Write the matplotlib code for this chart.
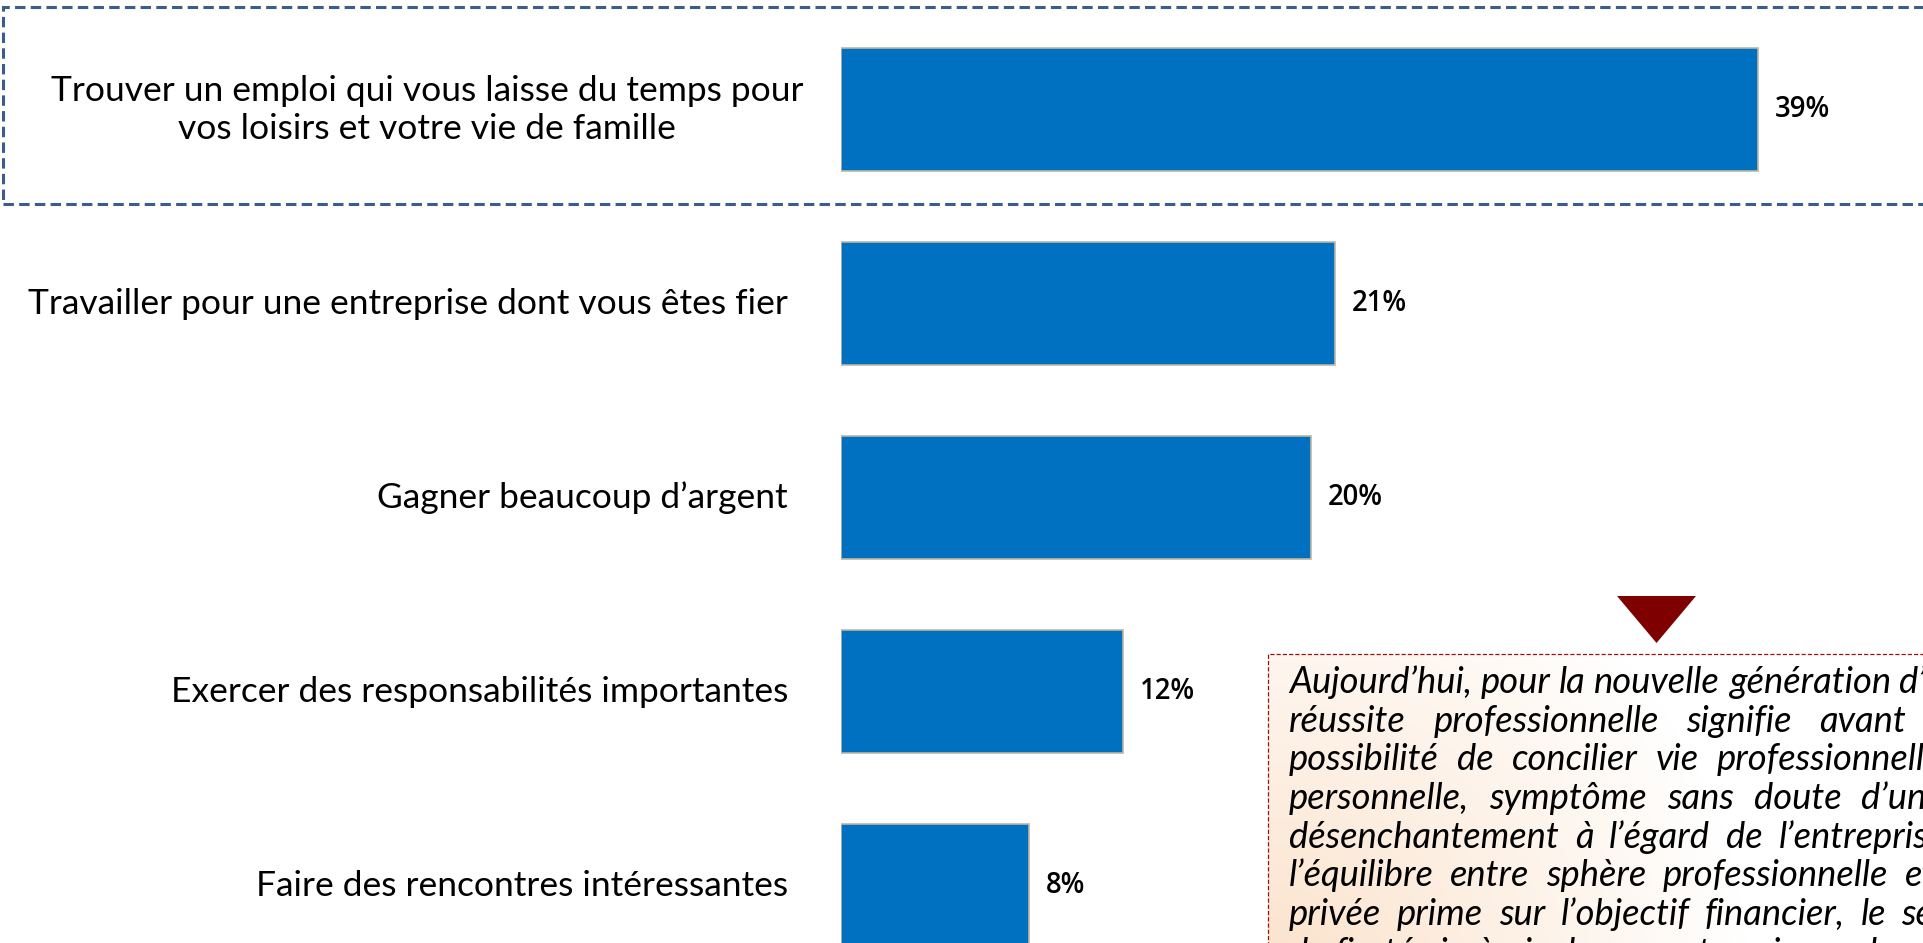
import matplotlib
matplotlib.use("Agg")
import matplotlib.pyplot as plt
import numpy as np
from matplotlib.patches import Rectangle, Polygon
from matplotlib.transforms import offset_copy
import matplotlib.font_manager as fm

plt.rcParams["lines.scale_dashes"] = False

# ---------------- data ----------------
categories = [
    "Trouver un emploi qui vous laisse du temps pour\nvos loisirs et votre vie de famille",
    "Travailler pour une entreprise dont vous êtes fier",
    "Gagner beaucoup d’argent",
    "Exercer des responsabilités importantes",
    "Faire des rencontres intéressantes",
]
values = [39, 21, 20, 12, 8]
value_labels = ["39%", "21%", "20%", "12%", "8%"]

comment_lines = [
    "Aujourd’hui, pour la nouvelle génération d’actifs, la",
    "réussite professionnelle signifie avant tout la",
    "possibilité de concilier vie professionnelle et vie",
    "personnelle, symptôme sans doute d’un certain",
    "désenchantement à l’égard de l’entreprise. Ainsi,",
    "l’équilibre entre sphère professionnelle et sphère",
    "privée prime sur l’objectif financier, le sentiment",
    "de fierté vis-à-vis de son entreprise ou la quête",
]

# ---------------- layout helpers ----------------
W, H, DPI = 1923, 943, 100
BAR_COLOR = "#0070C0"


def pick_family(cands, style="normal"):
    for c in cands:
        try:
            p = fm.findfont(fm.FontProperties(family=c, style=style),
                            fallback_to_default=False)
            if style == "italic" and "italic" not in p.lower():
                continue
            return c
        except Exception:
            continue
    return "DejaVu Sans"


LABEL_FONT = pick_family(["Lato", "Open Sans", "Noto Sans", "DejaVu Sans"])
VALUE_FONT = pick_family(["Open Sans", "Lato", "Noto Sans", "DejaVu Sans"])
ITALIC_FONT = pick_family(["Lato", "Roboto", "Open Sans", "Noto Sans", "DejaVu Sans"],
                          style="italic")

fig = plt.figure(figsize=(W / DPI, H / DPI), dpi=DPI)
fig.patch.set_facecolor("white")
renderer = fig.canvas.get_renderer()


def fx(x):
    return x / W


def fy(y):
    return 1 - y / H


def text_width(s, **kw):
    t = fig.text(0, 0, s, **kw)
    w = t.get_window_extent(renderer).width
    t.remove()
    return w


def fit_size(s, target, **kw):
    w = text_width(s, fontsize=20, **kw)
    return 20 * target / w


label_fs = fit_size("Exercer des responsabilités importantes", 620, family=LABEL_FONT)
value_fs = fit_size("21%", 55, family=VALUE_FONT, fontweight="semibold")
ital_fs = fit_size("Aujourd’hui, pour la nouvelle génération", 601,
                   family=ITALIC_FONT, style="italic")

# ---------------- bar axes ----------------
x0_px = 841
px_per_pct = 23.5
center0, spacing = 110, 194
ax = fig.add_axes([fx(x0_px), 0, 1 - fx(x0_px), 1])
ax.set_xlim(0, (W - x0_px) / px_per_pct)
ax.set_ylim((H - center0) / spacing, -center0 / spacing)
ax.axis("off")
ypos = np.arange(len(values))
ax.barh(ypos, values, height=123 / spacing, color=BAR_COLOR,
        edgecolor="#BEB6A2", linewidth=1.2, zorder=2)

# category labels
for i, (cat, v) in enumerate(zip(categories, values)):
    if "\n" in cat:
        tr = offset_copy(ax.transData, fig=fig, x=-414, y=0, units="dots")
        ax.text(0, i, cat, transform=tr, ha="center", va="center",
                fontsize=label_fs, family=LABEL_FONT, color="black",
                linespacing=1.22, multialignment="center")
    else:
        tr = offset_copy(ax.transData, fig=fig, x=-53, y=0, units="dots")
        ax.text(0, i, cat, transform=tr, ha="right", va="center",
                fontsize=label_fs, family=LABEL_FONT, color="black")

# value labels
for i, (v, lab) in enumerate(zip(values, value_labels)):
    tr = offset_copy(ax.transData, fig=fig, x=17, y=0, units="dots")
    ax.text(v, i, lab, transform=tr, ha="left", va="center",
            fontsize=value_fs, family=VALUE_FONT, fontweight="semibold",
            color="black")

# ---------------- highlight dashed box (top) ----------------
top_box = Rectangle((fx(3), fy(204)), fx(W + 60) - fx(3), fy(7) - fy(204),
                    transform=fig.transFigure, fill=False,
                    edgecolor="#3A5D8C", linewidth=2.2,
                    linestyle=(0, (7.5, 3.8)), zorder=5)
fig.patches.append(top_box)

# ---------------- comment box ----------------
bx, by = 1268, 654
gax = fig.add_axes([fx(bx), 0, 1 - fx(bx), fy(by)])
gax.axis("off")
gw, gh = W - bx, H - by
xx, yy = np.meshgrid(np.arange(gw), np.arange(gh))
d = np.hypot(xx - 0, yy - (gh + 40))
t = np.clip(1 - d / 480.0, 0, 1) ** 1.0
peach = np.array([251, 226, 203]) / 255.0
img = np.ones((gh, gw, 3)) * (1 - t[..., None]) + peach * t[..., None]
gax.imshow(img, aspect="auto", extent=(0, 1, 0, 1), origin="upper", zorder=0)
gax.set_xlim(0, 1)
gax.set_ylim(0, 1)

cbox = Rectangle((fx(bx), fy(H + 40)), fx(W + 60) - fx(bx), fy(by) - fy(H + 40),
                 transform=fig.transFigure, fill=False, edgecolor="#9B1010",
                 linewidth=0.9, linestyle=(0, (3, 1.5)), zorder=5)
fig.patches.append(cbox)

tri = Polygon([(fx(1617), fy(596)), (fx(1696), fy(596)), (fx(1656.5), fy(643))],
              closed=True, transform=fig.transFigure, facecolor="#7F0000",
              edgecolor="none", zorder=5)
fig.patches.append(tri)

# justified italic comment text
tx0, tx1 = 1289, 2052
base0, lstep = 693, 38.7
space_w = text_width("a b", family=ITALIC_FONT, style="italic", fontsize=ital_fs) - \
    text_width("ab", family=ITALIC_FONT, style="italic", fontsize=ital_fs)
for li, line in enumerate(comment_lines):
    words = line.split(" ")
    widths = [text_width(w_, family=ITALIC_FONT, style="italic", fontsize=ital_fs)
              for w_ in words]
    if li < len(comment_lines) - 1 and len(words) > 1:
        gap = (tx1 - tx0 - sum(widths)) / (len(words) - 1)
        gap = max(gap, space_w)
    else:
        gap = space_w
    x = tx0
    yb = base0 + li * lstep
    for w_, ww in zip(words, widths):
        fig.text(fx(x), fy(yb), w_, family=ITALIC_FONT, style="italic",
                 fontsize=ital_fs, color="black", ha="left", va="baseline",
                 zorder=6)
        x += ww + gap

fig.savefig("out.png", dpi=DPI, facecolor="white")
